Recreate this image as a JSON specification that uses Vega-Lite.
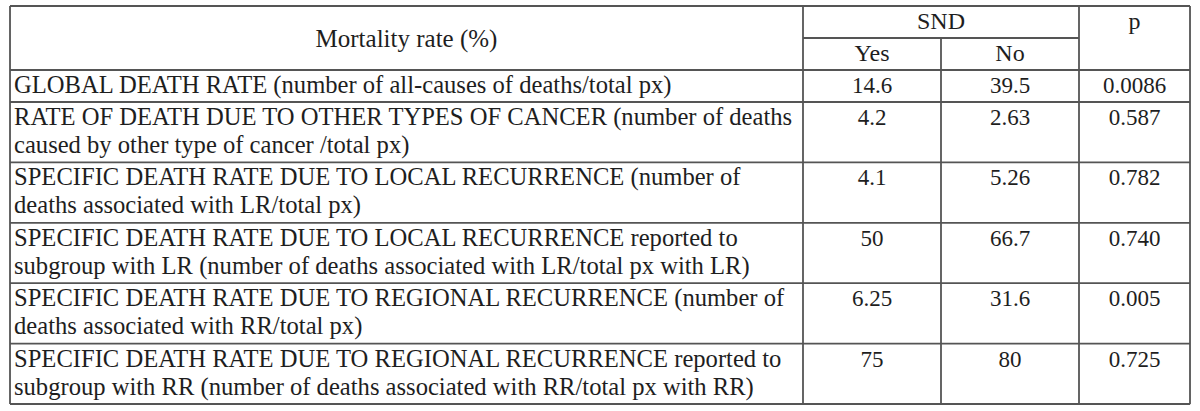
{
  "$schema": "https://vega.github.io/schema/vega-lite/v6.json",
  "width": 1180,
  "height": 398,
  "autosize": {"type": "none"},
  "padding": {"left": 10, "top": 6, "right": 10, "bottom": 7},
  "data": {"values": [
    {"kind": "h", "y": 0, "x1": 0, "x2": 4},
    {"kind": "h", "y": 1, "x1": 1, "x2": 3},
    {"kind": "h", "y": 2, "x1": 0, "x2": 4},
    {"kind": "h", "y": 3, "x1": 0, "x2": 4},
    {"kind": "h", "y": 5, "x1": 0, "x2": 4},
    {"kind": "h", "y": 7, "x1": 0, "x2": 4},
    {"kind": "h", "y": 9, "x1": 0, "x2": 4},
    {"kind": "h", "y": 11, "x1": 0, "x2": 4},
    {"kind": "h", "y": 13, "x1": 0, "x2": 4},
    {"kind": "v", "x": 0, "y1": 0, "y2": 13},
    {"kind": "v", "x": 1, "y1": 0, "y2": 13},
    {"kind": "v", "x": 2, "y1": 1, "y2": 13},
    {"kind": "v", "x": 3, "y1": 0, "y2": 13},
    {"kind": "v", "x": 4, "y1": 0, "y2": 13},
    {"kind": "head", "col": 2, "row": 0, "text": "SND"},
    {"kind": "head", "col": 3.5, "row": 0, "text": "p"},
    {"kind": "head", "col": 1.5, "row": 1, "text": "Yes"},
    {"kind": "head", "col": 2.5, "row": 1, "text": "No"},
    {"kind": "merged", "col": 0.5, "row": 1, "text": "Mortality rate (%)"},
    {"kind": "label", "col": 0, "row": 2, "text": ["GLOBAL DEATH RATE (number of all-causes of deaths/total px)"]},
    {"kind": "label", "col": 0, "row": 3, "text": ["RATE OF DEATH DUE TO OTHER TYPES OF CANCER (number of deaths", "caused by other  type of cancer /total px)"]},
    {"kind": "label", "col": 0, "row": 5, "text": ["SPECIFIC DEATH RATE DUE TO LOCAL RECURRENCE (number of", "deaths associated with LR/total px)"]},
    {"kind": "label", "col": 0, "row": 7, "text": ["SPECIFIC DEATH RATE DUE TO LOCAL RECURRENCE reported to", "subgroup with LR (number of deaths associated with LR/total px with LR)"]},
    {"kind": "label", "col": 0, "row": 9, "text": ["SPECIFIC DEATH RATE DUE TO REGIONAL RECURRENCE (number of", "deaths associated with RR/total px)"]},
    {"kind": "label", "col": 0, "row": 11, "text": ["SPECIFIC DEATH RATE DUE TO REGIONAL RECURRENCE reported to", "subgroup with RR (number of deaths associated with RR/total px with RR)"]},
    {"kind": "cell", "row": 2, "col": 1.5, "text": "14.6"}, {"kind": "cell", "row": 2, "col": 2.5, "text": "39.5"}, {"kind": "cell", "row": 2, "col": 3.5, "text": "0.0086"},
    {"kind": "cell", "row": 3, "col": 1.5, "text": "4.2"}, {"kind": "cell", "row": 3, "col": 2.5, "text": "2.63"}, {"kind": "cell", "row": 3, "col": 3.5, "text": "0.587"},
    {"kind": "cell", "row": 5, "col": 1.5, "text": "4.1"}, {"kind": "cell", "row": 5, "col": 2.5, "text": "5.26"}, {"kind": "cell", "row": 5, "col": 3.5, "text": "0.782"},
    {"kind": "cell", "row": 7, "col": 1.5, "text": "50"}, {"kind": "cell", "row": 7, "col": 2.5, "text": "66.7"}, {"kind": "cell", "row": 7, "col": 3.5, "text": "0.740"},
    {"kind": "cell", "row": 9, "col": 1.5, "text": "6.25"}, {"kind": "cell", "row": 9, "col": 2.5, "text": "31.6"}, {"kind": "cell", "row": 9, "col": 3.5, "text": "0.005"},
    {"kind": "cell", "row": 11, "col": 1.5, "text": "75"}, {"kind": "cell", "row": 11, "col": 2.5, "text": "80"}, {"kind": "cell", "row": 11, "col": 3.5, "text": "0.725"}
  ]},
  "layer": [
    {
      "transform": [{"filter": "datum.kind == 'label'"}],
      "mark": {"type": "text", "font": "Liberation Serif", "fontSize": 24.6, "fill": "#1e1e1e", "align": "left", "baseline": "alphabetic", "dx": 4, "dy": 23, "lineHeight": 28},
      "encoding": {
        "x": {"field": "col", "type": "quantitative", "scale": {"domain": [0, 1, 3, 4], "range": [0, 793, 1069, 1180], "zero": false, "nice": false}, "axis": null},
        "y": {"field": "row", "type": "quantitative", "scale": {"domain": [0, 3, 13], "range": [0, 96, 398], "zero": false, "nice": false}, "axis": null},
        "text": {"field": "text"}
      }
    },
    {
      "transform": [{"filter": "datum.kind == 'cell'"}],
      "mark": {"type": "text", "font": "Liberation Serif", "fontSize": 23, "fill": "#1e1e1e", "align": "center", "baseline": "alphabetic", "dy": 23},
      "encoding": {
        "x": {"field": "col", "type": "quantitative", "axis": null},
        "y": {"field": "row", "type": "quantitative", "axis": null},
        "text": {"field": "text"}
      }
    },
    {
      "transform": [{"filter": "datum.kind == 'head'"}],
      "mark": {"type": "text", "font": "Liberation Serif", "fontSize": 24, "fill": "#1e1e1e", "align": "center", "baseline": "alphabetic", "dy": 23},
      "encoding": {
        "x": {"field": "col", "type": "quantitative", "axis": null},
        "y": {"field": "row", "type": "quantitative", "axis": null},
        "text": {"field": "text"}
      }
    },
    {
      "transform": [{"filter": "datum.kind == 'merged'"}],
      "mark": {"type": "text", "font": "Liberation Serif", "fontSize": 25, "fill": "#1e1e1e", "align": "center", "baseline": "middle", "dy": 1},
      "encoding": {
        "x": {"field": "col", "type": "quantitative", "axis": null},
        "y": {"field": "row", "type": "quantitative", "axis": null},
        "text": {"field": "text"}
      }
    },
    {
      "transform": [{"filter": "datum.kind == 'h'"}],
      "mark": {"type": "rule", "color": "#555555", "strokeWidth": 1.8},
      "encoding": {
        "x": {"field": "x1", "type": "quantitative", "axis": null},
        "x2": {"field": "x2"},
        "y": {"field": "y", "type": "quantitative", "axis": null}
      }
    },
    {
      "transform": [{"filter": "datum.kind == 'v'"}],
      "mark": {"type": "rule", "color": "#555555", "strokeWidth": 1.8},
      "encoding": {
        "x": {"field": "x", "type": "quantitative", "axis": null},
        "y": {"field": "y1", "type": "quantitative", "axis": null},
        "y2": {"field": "y2"}
      }
    }
  ]
}
